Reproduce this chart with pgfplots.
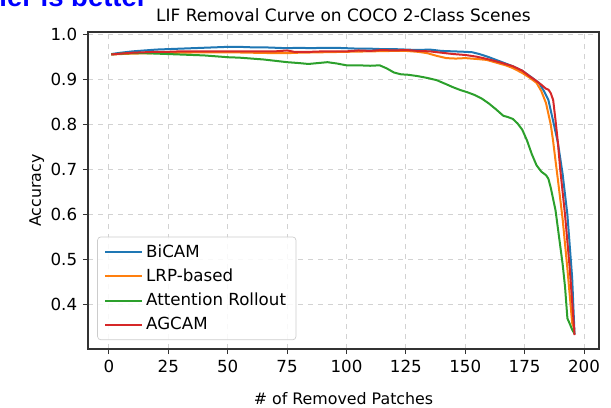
\documentclass[border=0pt]{standalone}
\usepackage{fontspec}
\setmainfont{DejaVu Sans}
\newfontfamily\arialfont{Liberation Sans}
\usepackage{pgfplots}
\pgfplotsset{compat=1.18}

\definecolor{mplblue}{HTML}{1F77B4}
\definecolor{mplorange}{HTML}{FF7F0E}
\definecolor{mplgreen}{HTML}{2CA02C}
\definecolor{mplred}{HTML}{D62728}

\begin{document}
\begin{tikzpicture}
% cropped caption fragment from the page above the figure
\node[anchor=base east, inner sep=0pt, text=blue] at (36pt,205.5pt)
    {\arialfont\bfseries\fontsize{16.5}{19}\selectfont ler is better};

\begin{axis}[
    width=306.6pt, height=190.2pt,
    scale only axis,
    xmin=-8.8, xmax=206.3,
    ymin=0.302, ymax=1.006,
    xtick={0,25,...,200},
    ytick={0.4,0.5,0.6,0.7,0.8,0.9,1.0},
    yticklabel style={/pgf/number format/fixed,
        /pgf/number format/precision=1,
        /pgf/number format/fixed zerofill},
    /pgf/number format/assume math mode=true,
    tick align=outside,
    tick pos=left,
    major tick length=3pt,
    tick style={black!80, line width=0.6pt},
    ticklabel style={font=\fontsize{10}{12}\selectfont},
    axis line style={black!80, line width=0.9pt},
    grid=major,
    grid style={dashed, gray!35, line width=0.6pt},
    title={LIF Removal Curve on COCO 2-Class Scenes},
    title style={font=\fontsize{10.2}{12}\selectfont, yshift=-3.5pt},
    xlabel={\# of Removed Patches},
    ylabel={Accuracy},
    xlabel style={yshift=-5pt},
    ylabel style={yshift=-3pt},
    label style={font=\fontsize{9.5}{11}\selectfont},
    legend style={at={(0.018,0.028)}, anchor=south west,
        draw=gray!40, rounded corners=2pt, fill=white, fill opacity=0.85,
        text opacity=1, font=\fontsize{10}{12}\selectfont,
        inner xsep=4pt, inner ysep=2.5pt, row sep=1.5pt},
    legend cell align=left,
    legend image code/.code={\draw[#1, line width=1.2pt] (0pt,0pt) -- (22pt,0pt);},
    every axis plot/.append style={line width=1.2pt, line join=round},
]

\addplot[mplblue] coordinates {
(1,0.957)(5,0.960)(10,0.963)(15,0.965)(20,0.967)(25,0.968)(30,0.969)
(35,0.970)(40,0.971)(45,0.972)(50,0.973)(55,0.973)(60,0.972)(65,0.972)
(70,0.971)(75,0.970)(80,0.971)(85,0.970)(90,0.971)(95,0.971)(100,0.970)
(105,0.969)(110,0.969)(115,0.968)(120,0.968)(125,0.967)(130,0.966)
(135,0.967)(140,0.964)(145,0.963)(150,0.962)(153,0.961)(156,0.957)
(160,0.950)(165,0.940)(170,0.930)(174,0.920)(178,0.905)(181,0.893)
(183,0.876)(185,0.855)(187,0.808)(189,0.760)(191,0.690)(193,0.600)
(195,0.460)(196,0.335)
};
\addlegendentry{BiCAM}

\addplot[mplorange] coordinates {
(1,0.956)(5,0.957)(10,0.958)(20,0.959)(30,0.960)(40,0.961)(50,0.961)
(60,0.960)(70,0.959)(75,0.959)(80,0.960)(90,0.961)(100,0.962)(110,0.963)
(120,0.964)(125,0.964)(130,0.962)(134,0.959)(138,0.953)(142,0.948)
(146,0.947)(150,0.948)(155,0.946)(159,0.944)(163,0.938)(167,0.932)
(170,0.926)(174,0.915)(177,0.905)(180,0.893)(182,0.875)(184,0.848)
(186,0.800)(187,0.763)(188,0.720)(189,0.678)(191,0.590)(193,0.480)
(195,0.360)(196,0.345)
};
\addlegendentry{LRP-based}

\addplot[mplgreen] coordinates {
(1,0.956)(5,0.958)(10,0.959)(15,0.959)(20,0.958)(25,0.957)(30,0.956)
(35,0.955)(40,0.954)(45,0.952)(50,0.950)(55,0.949)(60,0.947)(65,0.945)
(70,0.942)(75,0.939)(80,0.937)(84,0.935)(88,0.937)(92,0.939)(96,0.936)
(100,0.932)(105,0.932)(110,0.931)(114,0.932)(117,0.925)(120,0.916)
(123,0.912)(126,0.911)(130,0.908)(134,0.904)(138,0.899)(142,0.890)
(145,0.883)(148,0.877)(151,0.872)(154,0.866)(157,0.858)(160,0.847)
(163,0.834)(166,0.820)(168,0.817)(170,0.813)(172,0.803)(174,0.789)
(176,0.765)(178,0.735)(180,0.710)(182,0.696)(184,0.688)(185,0.680)
(186,0.660)(187,0.635)(188,0.610)(189,0.570)(190,0.530)(191,0.490)
(192,0.440)(193,0.370)(194,0.358)(195,0.345)(196,0.336)
};
\addlegendentry{Attention Rollout}

\addplot[mplred] coordinates {
(1,0.956)(5,0.958)(10,0.960)(15,0.961)(20,0.962)(25,0.962)(30,0.963)
(40,0.963)(50,0.963)(60,0.963)(70,0.963)(75,0.965)(78,0.962)(85,0.962)
(90,0.963)(100,0.963)(105,0.965)(110,0.964)(115,0.966)(120,0.965)
(125,0.966)(130,0.964)(135,0.963)(140,0.960)(145,0.957)(150,0.955)
(155,0.951)(160,0.945)(165,0.938)(170,0.930)(174,0.920)(177,0.908)
(180,0.897)(182,0.889)(184,0.880)(185,0.878)(186,0.870)(187,0.855)
(188,0.810)(189,0.760)(190,0.700)(192,0.600)(194,0.480)(196,0.333)
};
\addlegendentry{AGCAM}

\end{axis}
\pgfresetboundingbox
\path[use as bounding box] (-52.8pt,-34.8pt) rectangle (313.8pt,209.4pt);
\end{tikzpicture}
\end{document}
